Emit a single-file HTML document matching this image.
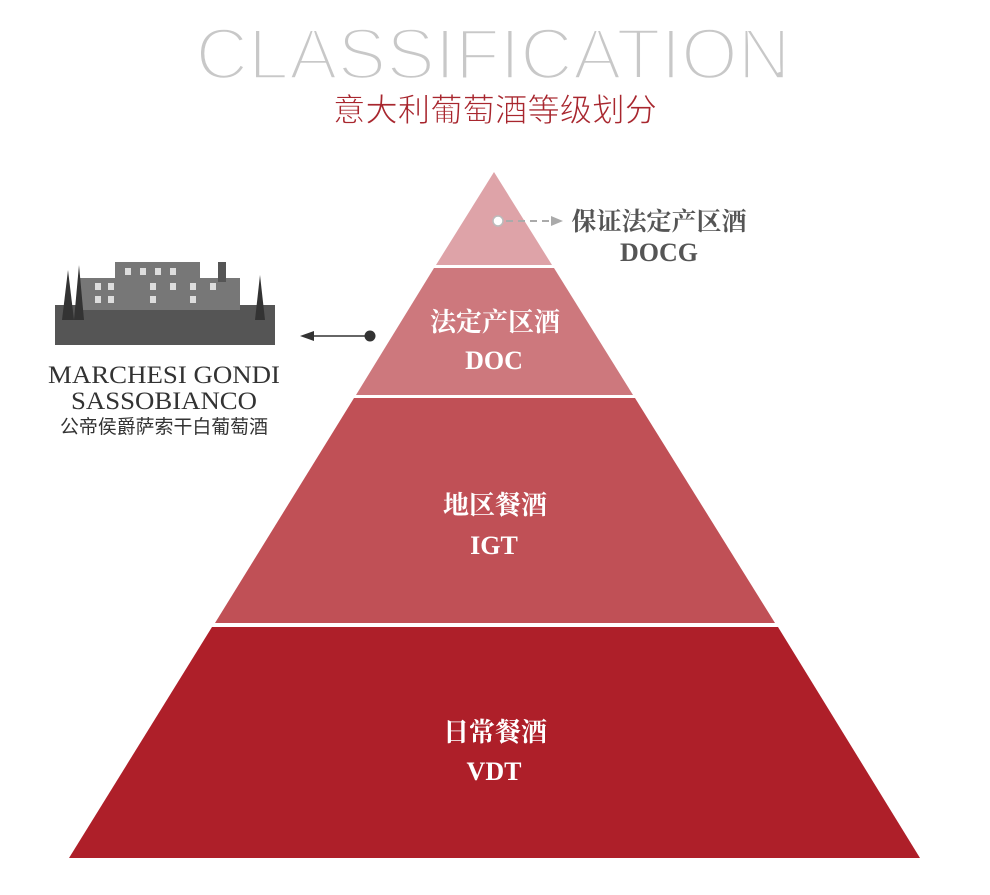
<!DOCTYPE html>
<html><head><meta charset="utf-8"><style>
html,body{margin:0;padding:0;background:#fff;}
svg{display:block;}
</style></head><body>
<svg width="990" height="895" viewBox="0 0 990 895" xmlns="http://www.w3.org/2000/svg">
<text x="493" y="79" text-anchor="middle" font-family="Liberation Sans, sans-serif" font-size="72" fill="#c8c8c8" stroke="#fff" stroke-width="3.5" textLength="595" lengthAdjust="spacingAndGlyphs">CLASSIFICATION</text>
<text x="495" y="121" text-anchor="middle" font-family="Liberation Sans, 'Noto Sans CJK SC', sans-serif" font-size="32" fill="#a8262e" stroke="#fff" stroke-width="0.8" textLength="324" lengthAdjust="spacingAndGlyphs">意大利葡萄酒等级划分</text>
<polygon points="494,172 552,265 436,265" fill="#dea3a8"/>
<polygon points="434,268 554,268 633,395 356,395" fill="#cd787d"/>
<polygon points="354,398 635,398 775,623 215,623" fill="#c05056"/>
<polygon points="212,627 778,627 920,858 69,858" fill="#ae1f29"/>
<g font-family="Liberation Serif, 'Noto Serif CJK SC', serif" font-weight="bold" fill="#fff" text-anchor="middle">
<text x="495" y="331" font-size="26">法定产区酒</text>
<text x="494" y="369" font-size="26">DOC</text>
<text x="495" y="514" font-size="26">地区餐酒</text>
<text x="494" y="554" font-size="26">IGT</text>
<text x="495" y="741" font-size="26">日常餐酒</text>
<text x="494" y="780" font-size="26">VDT</text>
</g>
<circle cx="498" cy="221" r="5" fill="#fff" stroke="#bbb" stroke-width="1.5"/>
<line x1="506" y1="221" x2="553" y2="221" stroke="#aaa" stroke-width="2" stroke-dasharray="7,5"/>
<polygon points="563,221 551,216 551,226" fill="#aaa"/>
<g font-family="Liberation Serif, 'Noto Serif CJK SC', serif" font-weight="bold" fill="#555" text-anchor="middle">
<text x="659" y="230" font-size="25">保证法定产区酒</text>
<text x="659" y="261" font-size="26">DOCG</text>
</g>
<circle cx="370" cy="336" r="5.5" fill="#333"/>
<line x1="312" y1="336" x2="370" y2="336" stroke="#333" stroke-width="1.5"/>
<polygon points="300,336 314,331 314,341" fill="#333"/>
<g>
<rect x="55" y="305" width="220" height="40" fill="#555"/>
<rect x="80" y="278" width="160" height="32" fill="#777"/>
<rect x="115" y="262" width="85" height="20" fill="#777"/>
<rect x="218" y="262" width="8" height="20" fill="#555"/>
<polygon points="62,320 68,270 74,320" fill="#333"/>
<polygon points="74,320 79,265 84,320" fill="#333"/>
<polygon points="255,320 260,275 265,320" fill="#333"/>
<g fill="#ddd">
<rect x="95" y="283" width="6" height="7"/><rect x="108" y="283" width="6" height="7"/>
<rect x="125" y="268" width="6" height="7"/><rect x="140" y="268" width="6" height="7"/><rect x="155" y="268" width="6" height="7"/><rect x="170" y="268" width="6" height="7"/>
<rect x="150" y="283" width="6" height="7"/><rect x="170" y="283" width="6" height="7"/><rect x="190" y="283" width="6" height="7"/><rect x="210" y="283" width="6" height="7"/>
<rect x="95" y="296" width="6" height="7"/><rect x="108" y="296" width="6" height="7"/><rect x="150" y="296" width="6" height="7"/><rect x="190" y="296" width="6" height="7"/>
</g>
</g>
<g font-family="Liberation Serif, serif" fill="#333" text-anchor="middle">
<text x="164" y="383" font-size="25" textLength="232" lengthAdjust="spacingAndGlyphs">MARCHESI GONDI</text>
<text x="164" y="409" font-size="25" textLength="186" lengthAdjust="spacingAndGlyphs">SASSOBIANCO</text>
</g>
<text x="164" y="433" text-anchor="middle" font-family="Liberation Sans, 'Noto Sans CJK SC', sans-serif" font-size="19" fill="#333" textLength="208" lengthAdjust="spacingAndGlyphs">公帝侯爵萨索干白葡萄酒</text>
</svg>
</body></html>
